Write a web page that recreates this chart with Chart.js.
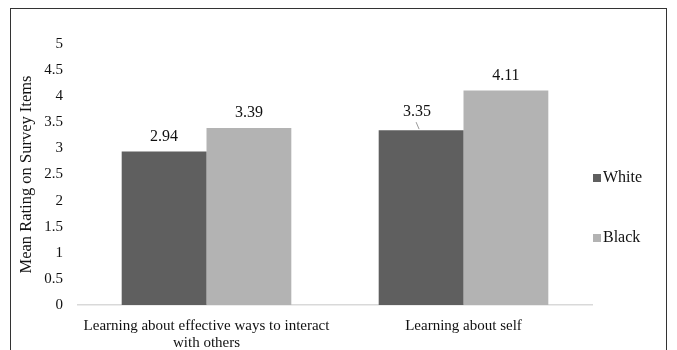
<!DOCTYPE html>
<html>
<head>
<meta charset="utf-8">
<script src="https://cdn.jsdelivr.net/npm/chart.js@4"></script>
<style>
  body { margin: 0; background: #fff; }
  #wrap { position: relative; width: 677px; height: 350px; overflow: hidden; }
  #frame { position: absolute; left: 10px; top: 8px; width: 657px; height: 400px; border: 1.5px solid #333; box-sizing: border-box; }
  canvas { position: absolute; left: 0; top: 0; }
</style>
</head>
<body>
<div id="wrap">
  <div id="frame"></div>
  <canvas id="myChart" width="677" height="350"></canvas>
</div>
<script>
// survey chart
const categories = [['Learning about effective ways to interact', 'with others'], 'Learning about self'];
const groups = ['White', 'Black'];
const whiteValues = [2.94, 3.35];
const blackValues = [3.39, 4.11];
const colors = ['#5f5f5f', '#b3b3b3'];
const font = 'Liberation Serif';

// value labels above bars (3.35 is nudged left with a little leader line, like the original)
const valueLabels = {
  id: 'valueLabels',
  afterDatasetsDraw(chart) {
    const ctx = chart.ctx;
    ctx.save();
    ctx.font = '16px "' + font + '"';
    ctx.fillStyle = '#111';
    ctx.textAlign = 'center';
    ctx.textBaseline = 'bottom';
    chart.data.datasets.forEach((ds, di) => {
      chart.getDatasetMeta(di).data.forEach((bar, i) => {
        const v = ds.data[i];
        let x = bar.x, y = bar.y - 7;
        if (di === 0 && i === 1) {
          x = bar.x - 4; y = bar.y - 10;
          ctx.strokeStyle = '#999';
          ctx.lineWidth = 1;
          ctx.beginPath();
          ctx.moveTo(bar.x - 2, bar.y - 1);
          ctx.lineTo(bar.x - 5, bar.y - 8);
          ctx.stroke();
        }
        ctx.fillText(v.toFixed(2), x, y);
      });
    });
    ctx.restore();
  }
};

const sideLegend = {
  id: 'sideLegend',
  afterDraw(chart) {
    const ctx = chart.ctx;
    ctx.save();
    ctx.font = '16px "' + font + '"';
    ctx.textBaseline = 'middle';
    const ys = [178, 238];
    groups.forEach((g, i) => {
      ctx.fillStyle = colors[i];
      ctx.fillRect(593, ys[i] - 4, 8, 8);
      ctx.fillStyle = '#111';
      ctx.fillText(g, 603, ys[i]);
    });
    ctx.restore();
  }
};

const data = {
  labels: categories,
  datasets: [
    { label: groups[0], data: whiteValues, backgroundColor: colors[0] },
    { label: groups[1], data: blackValues, backgroundColor: colors[1] }
  ]
};

const config = {
  type: 'bar',
  data,
  options: {
    responsive: false,
    animation: false,
    layout: { padding: { left: 17, right: 85, top: 44, bottom: 0 } },
    datasets: { bar: { categoryPercentage: 0.66, barPercentage: 1 } },
    plugins: { legend: { display: false }, tooltip: { enabled: false } },
    scales: {
      x: {
        grid: { display: false, tickLength: 0 },
        border: { display: true, color: '#d9d9d9', width: 1.5 },
        ticks: { color: '#111', padding: 12, font: { family: font, size: 15, lineHeight: 1.15 } },
        afterFit(s) { s.height = 45; }
      },
      y: {
        min: 0, max: 5,
        grid: { display: false, tickLength: 0 },
        border: { display: false },
        ticks: { stepSize: 0.5, color: '#111', padding: 15, font: { family: font, size: 15 },
          callback: v => String(v) },
        title: { display: true, text: 'Mean Rating on Survey Items', color: '#111', padding: 0, font: { family: font, size: 16.5 } },
        afterFit(s) { s.width = 61; }
      }
    }
  },
  plugins: [valueLabels, sideLegend]
};

const myChart = new Chart(document.getElementById('myChart'), config);
</script>
</body>
</html>
